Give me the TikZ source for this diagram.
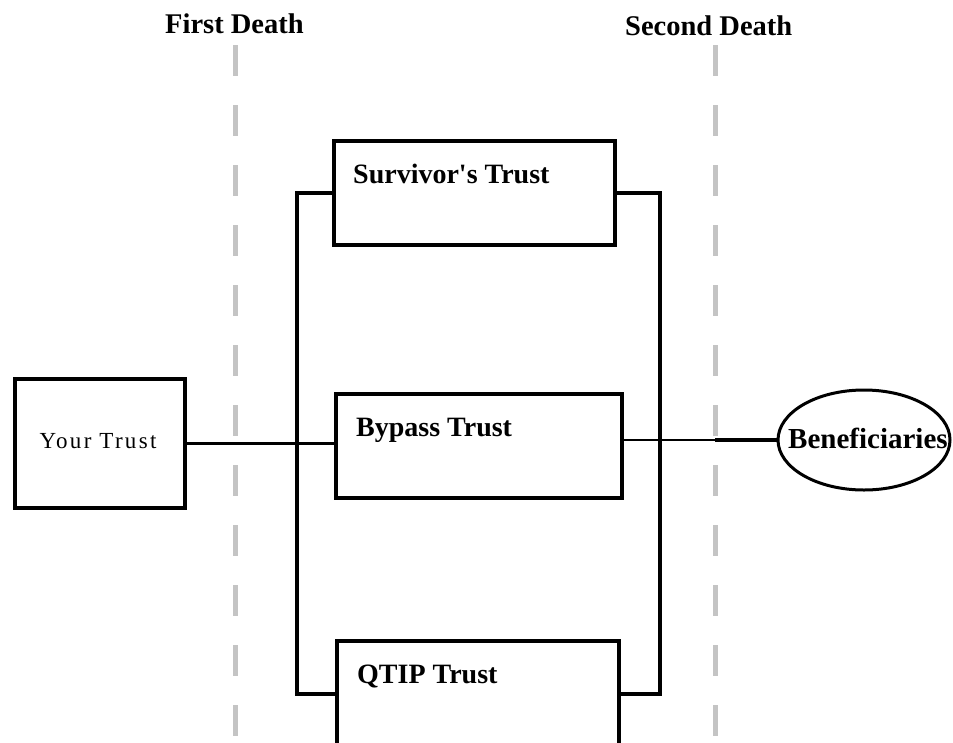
\documentclass[tikz,border=0pt]{standalone}
\usepackage{fontspec}
\setmainfont{Liberation Serif}
\newfontfamily\spacedserif[LetterSpace=10]{Liberation Serif}
\newfontfamily\plainserif{Liberation Serif}
\usetikzlibrary{shapes.geometric}
\definecolor{dashgray}{HTML}{C4C4C4}
\begin{document}
\begin{tikzpicture}[x=1pt,y=-1pt,
  trustbox/.style={draw=black,line width=4pt,rectangle,inner sep=0pt,anchor=north west},
  boxlabel/.style={anchor=base west,inner sep=0pt,font=\plainserif\fontsize{28}{32}\selectfont\bfseries},
  headlabel/.style={anchor=base west,inner sep=0pt,font=\fontsize{28.5}{32}\selectfont\bfseries},
  deathline/.style={draw=dashgray,line width=5pt,dash pattern=on 31pt off 29pt},
  bus/.style={draw=black,line width=4pt},
  link/.style={draw=black,line width=3.2pt},
  thinlink/.style={draw=black,line width=2pt}]
\useasboundingbox (0,0) rectangle (953,742);
\clip (0,0) rectangle (953,742);
% death lines
\coordinate (d1top) at (235,45);
\coordinate (d1bot) at (235,760);
\coordinate (d2top) at (715,45);
\coordinate (d2bot) at (715,760);
\draw[deathline] (d1top) -- (d1bot);
\draw[deathline] (d2top) -- (d2bot);
% headers
\node[headlabel] (fd) at (165,33) {First Death};
\node[headlabel] (sd) at (625,35) {Second Death};
% boxes
\node[trustbox,minimum width=170pt,minimum height=129pt] (yt) at (13,377) {};
\node[trustbox,minimum width=281pt,minimum height=104pt] (sv) at (332,139) {};
\node[trustbox,minimum width=286pt,minimum height=104pt] (bp) at (334,392) {};
\node[trustbox,minimum width=282pt,minimum height=106pt] (qt) at (335,639) {};
\node[draw=black,line width=3pt,ellipse,inner sep=0pt,minimum width=172pt,minimum height=100pt] (ben) at (864,440) {};
% texts
\node[inner sep=0pt,anchor=base,font=\spacedserif\fontsize{23}{26}\selectfont] (ytt) at (98,448) {Your Trust};
\node[boxlabel] (svt) at (353,183) {Survivor's Trust};
\node[boxlabel] (bpt) at (356,436) {Bypass Trust};
\node[boxlabel] (qtt) at (357,683) {QTIP Trust};
\node[boxlabel,font=\plainserif\fontsize{29}{32}\selectfont\bfseries] (bent) at (788,448) {Beneficiaries};
% connectors
\coordinate (lb) at (297,0);
\coordinate (rb) at (660,0);
\coordinate (mid) at (715,0);
\draw[link] (yt.east) -- (yt.east -| bp.west);
\draw[bus] (sv.west) -- (sv.west -| lb) -- (qt.west -| lb) -- (qt.west);
\draw[bus] (sv.east) -- (sv.east -| rb) -- (qt.east -| rb) -- (qt.east);
\draw[thinlink] (bp.east |- ben.west) -- (ben.west -| mid);
\draw[link] (ben.west -| mid) -- (ben.west);
\end{tikzpicture}
\end{document}
